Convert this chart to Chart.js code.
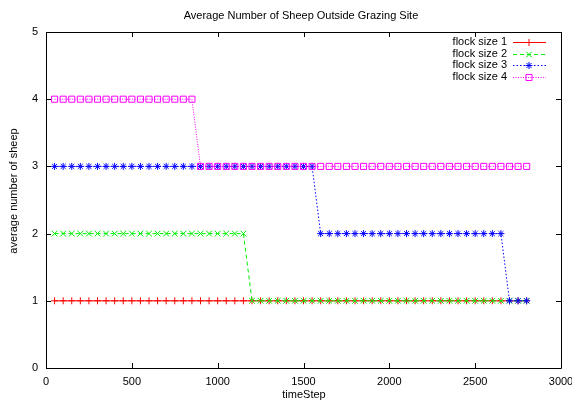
<!DOCTYPE html>
<html lang="en">
<head>
    <meta charset="UTF-8">
    <title>Average Number of Sheep Outside Grazing Site</title>
    <style>
        html, body { margin: 0; padding: 0; background: #fff; }
        #wrap { width: 572px; height: 400px; position: relative; }
    </style>
</head>
<body>
<div id="wrap"><canvas id="chart-area"></canvas></div>
<script src="https://cdn.jsdelivr.net/npm/chart.js@4/dist/chart.umd.min.js"></script>
<script>
    // time steps 50..2800
    var timeSteps = [50, 100, 150, 200, 250, 300, 350, 400, 450, 500, 550, 600, 650, 700,
        750, 800, 850, 900, 950, 1000, 1050, 1100, 1150, 1200, 1250, 1300, 1350, 1400,
        1450, 1500, 1550, 1600, 1650, 1700, 1750, 1800, 1850, 1900, 1950, 2000, 2050, 2100,
        2150, 2200, 2250, 2300, 2350, 2400, 2450, 2500, 2550, 2600, 2650, 2700, 2750, 2800];

    var flock1 = [1, 1, 1, 1, 1, 1, 1, 1, 1, 1, 1, 1, 1, 1,
        1, 1, 1, 1, 1, 1, 1, 1, 1, 1, 1, 1, 1, 1,
        1, 1, 1, 1, 1, 1, 1, 1, 1, 1, 1, 1, 1, 1,
        1, 1, 1, 1, 1, 1, 1, 1, 1, 1, 1, 1, 1, 1];
    var flock2 = [2, 2, 2, 2, 2, 2, 2, 2, 2, 2, 2, 2, 2, 2,
        2, 2, 2, 2, 2, 2, 2, 2, 2, 1, 1, 1, 1, 1,
        1, 1, 1, 1, 1, 1, 1, 1, 1, 1, 1, 1, 1, 1,
        1, 1, 1, 1, 1, 1, 1, 1, 1, 1, 1, 1, 1, 1];
    var flock3 = [3, 3, 3, 3, 3, 3, 3, 3, 3, 3, 3, 3, 3, 3,
        3, 3, 3, 3, 3, 3, 3, 3, 3, 3, 3, 3, 3, 3,
        3, 3, 3, 2, 2, 2, 2, 2, 2, 2, 2, 2, 2, 2,
        2, 2, 2, 2, 2, 2, 2, 2, 2, 2, 2, 1, 1, 1];
    var flock4 = [4, 4, 4, 4, 4, 4, 4, 4, 4, 4, 4, 4, 4, 4,
        4, 4, 4, 3, 3, 3, 3, 3, 3, 3, 3, 3, 3, 3,
        3, 3, 3, 3, 3, 3, 3, 3, 3, 3, 3, 3, 3, 3,
        3, 3, 3, 3, 3, 3, 3, 3, 3, 3, 3, 3, 3, 3];

    var seriesNames = ['flock size 1', 'flock size 2', 'flock size 3', 'flock size 4'];
    var seriesValues = [flock1, flock2, flock3, flock4];
    var xTicks = [0, 500, 1000, 1500, 2000, 2500, 3000];
    var yTicks = [0, 1, 2, 3, 4, 5];

    var FONT = '"Liberation Sans", Arial, sans-serif';
    Chart.defaults.font.family = FONT;
    Chart.defaults.font.size = 11;
    Chart.defaults.color = '#000';

    var styles = [
        {color: '#ff0000', dash: [], point: 'cross', radius: 3.5},
        {color: '#00ee00', dash: [4, 3], point: 'crossRot', radius: 4},
        {color: '#0000ff', dash: [1.5, 2], point: 'star', radius: 3.5},
        {color: '#ff00ff', dash: [1, 1.5], point: 'rect', radius: 4.3}
    ];

    function toPoints(values) {
        var pts = [];
        for (var i = 0; i < values.length; i++) {
            pts.push({x: timeSteps[i], y: values[i]});
        }
        return pts;
    }

    var datasets = [];
    for (var i = 0; i < seriesNames.length; i++) {
        datasets.push({
            label: seriesNames[i],
            data: toPoints(seriesValues[i]),
            showLine: true,
            borderColor: styles[i].color,
            borderWidth: 1,
            borderDash: styles[i].dash,
            pointStyle: styles[i].point,
            pointRadius: styles[i].radius,
            pointBorderColor: styles[i].color,
            pointBackgroundColor: 'rgba(0,0,0,0)',
            pointBorderWidth: 1,
            order: seriesNames.length - i
        });
    }

    // gnuplot style frame, inward ticks, title, axis labels and legend
    var gnuplotFrame = {
        id: 'gnuplotFrame',
        afterDraw: function (chart) {
            var ctx = chart.ctx;
            var a = chart.chartArea;
            var xs = chart.scales.x, ys = chart.scales.y;
            ctx.save();
            ctx.strokeStyle = '#000';
            ctx.lineWidth = 1;
            ctx.setLineDash([]);
            ctx.beginPath();
            ctx.rect(Math.round(a.left) + 0.5, Math.round(a.top) + 0.5,
                Math.round(a.right - a.left), Math.round(a.bottom - a.top));
            xTicks.forEach(function (v) {
                var px = Math.round(xs.getPixelForValue(v)) + 0.5;
                ctx.moveTo(px, a.bottom); ctx.lineTo(px, a.bottom - 5);
                ctx.moveTo(px, a.top); ctx.lineTo(px, a.top + 5);
            });
            yTicks.forEach(function (v) {
                var py = Math.round(ys.getPixelForValue(v)) + 0.5;
                ctx.moveTo(a.left, py); ctx.lineTo(a.left + 5, py);
                ctx.moveTo(a.right, py); ctx.lineTo(a.right - 5, py);
            });
            ctx.stroke();

            ctx.fillStyle = '#000';
            ctx.font = '11px ' + FONT;
            ctx.textAlign = 'center';
            ctx.textBaseline = 'middle';
            ctx.fillText('Average Number of Sheep Outside Grazing Site', 301, 16);
            ctx.fillText('timeStep', 304, 395);
            ctx.save();
            ctx.translate(14, 191);
            ctx.rotate(-Math.PI / 2);
            ctx.fillText('average number of sheep', 0, 0);
            ctx.restore();

            // legend
            for (var i = 0; i < seriesNames.length; i++) {
                var y = Math.round(42 + i * 11.6);
                ctx.textAlign = 'right';
                ctx.fillStyle = '#000';
                ctx.fillText(seriesNames[i], 507, y);
                ctx.strokeStyle = styles[i].color;
                ctx.fillStyle = 'rgba(0,0,0,0)';
                ctx.setLineDash(styles[i].dash);
                ctx.beginPath();
                ctx.moveTo(513, y + 0.5);
                ctx.lineTo(546, y + 0.5);
                ctx.stroke();
                ctx.setLineDash([]);
                Chart.helpers.drawPoint(ctx, {
                    pointStyle: styles[i].point,
                    radius: styles[i].radius,
                    borderWidth: 1
                }, 529, y + 0.5);
            }
            ctx.restore();
        }
    };

    function plainLabel(value) {
        return String(value);
    }

    var config = {
        type: 'scatter',
        data: {datasets: datasets},
        options: {
            responsive: false,
            animation: false,
            layout: {padding: {top: 32, right: 11, left: 0, bottom: 0}},
            plugins: {
                legend: {display: false},
                tooltip: {enabled: false}
            },
            scales: {
                x: {
                    type: 'linear',
                    min: 0, max: 3000,
                    border: {display: false},
                    grid: {display: false, drawTicks: false},
                    ticks: {stepSize: 500, padding: 7, maxRotation: 0, autoSkip: false, callback: plainLabel},
                    afterFit: function (scale) {
                        scale.height = 32;
                        scale.paddingLeft = 0;
                        scale.paddingRight = 0;
                    }
                },
                y: {
                    min: 0, max: 5,
                    border: {display: false},
                    grid: {display: false, drawTicks: false},
                    ticks: {stepSize: 1, padding: 8, callback: plainLabel},
                    afterFit: function (scale) {
                        scale.width = 46;
                        scale.paddingTop = 0;
                        scale.paddingBottom = 0;
                    }
                }
            }
        },
        plugins: [gnuplotFrame]
    };

    var canvas = document.getElementById('chart-area');
    canvas.width = 572;
    canvas.height = 400;
    window.myChart = new Chart(canvas.getContext('2d'), config);
</script>
</body>
</html>
